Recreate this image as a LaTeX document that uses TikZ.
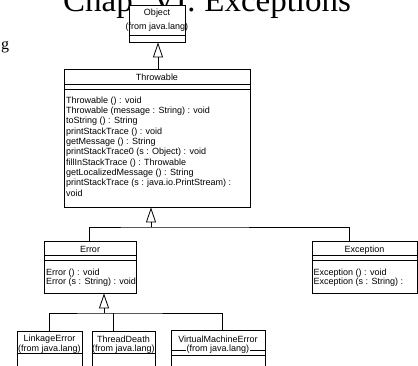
\documentclass[tikz,border=0pt]{standalone}
\usepackage{fontspec}
\setmainfont{Liberation Serif}
\newfontfamily\umlfont{Liberation Sans}
\usetikzlibrary{arrows.meta}

\begin{document}
\begin{tikzpicture}
[x=1pt,y=-1pt,
  classdecorate/.style={shape=rectangle,draw,fill=white,line width=0.8pt,inner sep=0pt},%
  namedecorate/.style={inner sep=0pt,font=\umlfont\fontsize{9}{10}\selectfont},
  methoddecorate/.style={anchor=west,inner sep=0pt,font=\umlfont\fontsize{9}{10}\selectfont},
  linedecorate/.style={-,line width=0.8pt},
  inheritdecorate/.style={-{Triangle[open,width=10pt,length=15pt]},line width=0.8pt}]
\clip (0,0) rectangle (418,365);
%% slide text behind the diagram
\node (title) [anchor=base west,inner sep=0pt,font=\fontsize{33}{36}\selectfont]
  at (63,11) {Chap. VI: Exceptions};
\node (cutword) [anchor=base west,inner sep=0pt,font=\fontsize{16}{18}\selectfont]
  at (1,49) {g};
%% classes
\foreach \nodename/\x/\y/\w/\h in {
  object/157/23.5/56/37, throwable/157/138/186/138,
  error/90/267/92/52, exception/364.5/267/105/52,
  linkage/49.5/353/65/44, threaddeath/123.5/353/63/44,
  vmerror/218/352.5/94/45}
{
  \node (\nodename) at (\x,\y) [classdecorate,minimum width=\w pt,minimum height=\h pt] {};
}
%% compartments
\foreach \nodename/\y in {object/35, throwable/84, throwable/89,
  error/255, error/260, exception/255, exception/260,
  linkage/353, threaddeath/353, vmerror/350, vmerror/355}
{
  \draw[linedecorate] (\nodename.west |- 0,\y) -- (\nodename.east |- 0,\y);
}
%% class names
\foreach \nodename/\classname/\y in {object/Object/13, throwable/Throwable/77,
  error/Error/249, exception/Exception/250, linkage/LinkageError/339,
  threaddeath/ThreadDeath/339, vmerror/VirtualMachineError/339}
{
  \node[namedecorate] at (\nodename.north |- 0,\y) {\classname};
}
\foreach \nodename/\y in {object/27, linkage/349, threaddeath/349}
{
  \node[namedecorate] at (\nodename.north |- 0,\y) {(from java.lang)};
}
\node[namedecorate,fill=white,inner sep=0.5pt] at (vmerror.north |- 0,349) {(from java.lang)};
%% operations
\foreach \i/\method in {
  0/Throwable () : void, 1/Throwable (message : String) : void,
  2/toString () : String, 3/printStackTrace () : void,
  4/getMessage () : String, 5/printStackTrace0 (s : Object) : void,
  6/fillInStackTrace () : Throwable, 7/getLocalizedMessage () : String,
  8/printStackTrace (s : java.io.PrintStream) :, 9/void}
{
  \node[methoddecorate] at (66,101+10.3*\i) {\method};
}
\foreach \i/\method in {0/Error () : void, 1/Error (s : String) : void}
{
  \node[methoddecorate] at (46,273+9*\i) {\method};
}
\foreach \i/\method in {0/Exception () : void, 1/Exception (s : String) :}
{
  \node[methoddecorate] at (313.5,273+9*\i) {\method};
}
%% generalizations
\coordinate (throwjoin) at (151,227);
\coordinate (errjoin) at (104,313);
\draw[inheritdecorate] (throwable.north -| 158,0) -- (object.south -| 158,0);
\draw[inheritdecorate] (throwjoin) -- (throwable.south -| throwjoin);
\draw[linedecorate] (error.north -| 89,0) |- (throwjoin) -| (exception.north -| 349,0);
\draw[inheritdecorate] (errjoin) -- (error.south -| errjoin);
\draw[linedecorate] (linkage.north -| 49,0) |- (errjoin) -| (vmerror.north -| 222,0);
\draw[linedecorate] (threaddeath.north -| 113,0) -- (errjoin -| 113,0);
\end{tikzpicture}
\end{document}
